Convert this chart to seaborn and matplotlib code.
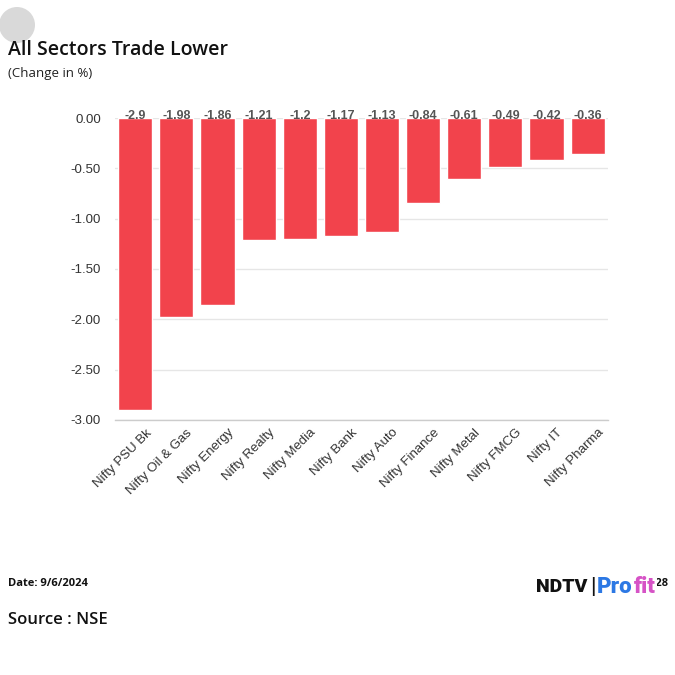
import matplotlib
matplotlib.use('Agg')
import matplotlib.pyplot as plt
import matplotlib.transforms as mtransforms
from matplotlib.text import Annotation
import numpy as np
import pandas as pd
import seaborn as sns
from matplotlib.patches import Circle

sectors = ['Nifty PSU Bk', 'Nifty Oil & Gas', 'Nifty Energy', 'Nifty Realty',
           'Nifty Media', 'Nifty Bank', 'Nifty Auto', 'Nifty Finance',
           'Nifty Metal', 'Nifty FMCG', 'Nifty IT', 'Nifty Pharma']
changes = [-2.9, -1.98, -1.86, -1.21, -1.2, -1.17, -1.13, -0.84, -0.61, -0.49, -0.42, -0.36]
value_labels = ['-2.9', '-1.98', '-1.86', '-1.21', '-1.2', '-1.17', '-1.13', '-0.84',
                '-0.61', '-0.49', '-0.42', '-0.36']
y_ticks = [0.0, -0.5, -1.0, -1.5, -2.0, -2.5, -3.0]

sns.set_style('white')
plt.rcParams['font.family'] = ['Liberation Sans', 'DejaVu Sans']

df = pd.DataFrame({'sector': sectors, 'change': changes})

fig = plt.figure(figsize=(6.75, 6.75), dpi=100)
ax = fig.add_axes([0.170, 0.378, 0.731, 0.447])

sns.barplot(data=df, x='sector', y='change', color='#f2434c', saturation=1,
            width=0.83, ax=ax, zorder=3)

ax.set_ylim(-3.0, 0.0)
ax.set_xlim(-0.5, len(sectors) - 0.5)
ax.set_yticks(y_ticks)
ax.set_yticklabels(['{:.2f}'.format(v) for v in y_ticks], fontsize=9.5, color='#333333')
ax.yaxis.grid(True, color='#e6e6e6', linewidth=1, zorder=0)
ax.set_xlabel('')
ax.set_ylabel('')

for side in ['left', 'right', 'top']:
    ax.spines[side].set_visible(False)
ax.spines['bottom'].set_color('#cccccc')
ax.spines['bottom'].set_linewidth(1)
ax.spines['bottom'].set_zorder(4)

ax.set_xticks(range(len(sectors)))
ax.set_xticklabels(sectors, rotation=45, ha='right', rotation_mode='anchor',
                   fontsize=9.5, color='#333333')
ax.tick_params(axis='x', which='major', length=0, pad=5)
ax.tick_params(axis='y', length=0, pad=10)
ax.set_xticks(np.arange(-0.5, len(sectors), 1.0), minor=True)
ax.tick_params(axis='x', which='minor', length=6, color='#cccccc', width=1)
shift = mtransforms.ScaledTranslation(10 / 100, 0, fig.dpi_scale_trans)
for lab in ax.get_xticklabels():
    lab.set_transform(lab.get_transform() + shift)

for i, lab in enumerate(value_labels):
    ax.text(i, -0.04, lab, ha='center', va='bottom', fontsize=9, fontweight='bold',
            color='#555555', zorder=5)

fig.patches.append(Circle((17 / 675, 1 - 25 / 675), 18 / 675, transform=fig.transFigure,
                          facecolor='#d9d9d9', edgecolor='none'))

fig.text(8 / 675, 1 - 50 / 675, 'All Sectors Trade Lower', fontsize=14,
         fontweight='semibold', family=['Open Sans', 'DejaVu Sans'], color='#111111',
         va='center', ha='left')
fig.text(8 / 675, 1 - 73 / 675, '(Change in %)', fontsize=9.5,
         family=['Open Sans', 'DejaVu Sans'], color='#222222', va='center', ha='left')

fig.text(8 / 675, 1 - 583 / 675, 'Date: 9/6/2024', fontsize=8, fontweight='bold',
         family=['Open Sans', 'DejaVu Sans'], color='#111111', va='center', ha='left')
fig.text(8 / 675, 1 - 620 / 675, 'Source : NSE', fontsize=12, fontweight='semibold',
         family=['Open Sans', 'DejaVu Sans'], color='#111111', va='center', ha='left')

# time stamp, mostly covered by the logo in the original
fig.text(668 / 675, 1 - 583 / 675, 'Time: 11:28', fontsize=8, fontweight='bold',
         family=['Open Sans', 'DejaVu Sans'], color='#111111', va='center', ha='right',
         zorder=1)

# NDTV Profit logo, pieces chained one after another
t_ndtv = fig.text(536 / 675, 1 - 587 / 675, 'NDTV', fontsize=14, fontweight='heavy',
                  family=['Roboto', 'DejaVu Sans'], color='#111111', va='center',
                  ha='left', zorder=3,
                  bbox=dict(facecolor='white', edgecolor='none', pad=1))
prev = fig.add_artist(Annotation(
    '|', xy=(1, 0.5), xycoords=t_ndtv, xytext=(2, 0), textcoords='offset points',
    fontsize=15, color='#111111', va='center', ha='left', zorder=3))
for piece, col in zip(['Pro', 'fit'], ['#2c78e4', '#d653c6']):
    prev = fig.add_artist(Annotation(
        piece, xy=(1, 0.5), xycoords=prev, xytext=(1, 0), textcoords='offset points',
        fontsize=16, fontweight='heavy', family=['Roboto', 'DejaVu Sans'], color=col,
        va='center', ha='left', zorder=3,
        bbox=dict(facecolor='white', edgecolor='none', pad=0.5)))

fig.savefig('out.png', dpi=100, facecolor='white')
